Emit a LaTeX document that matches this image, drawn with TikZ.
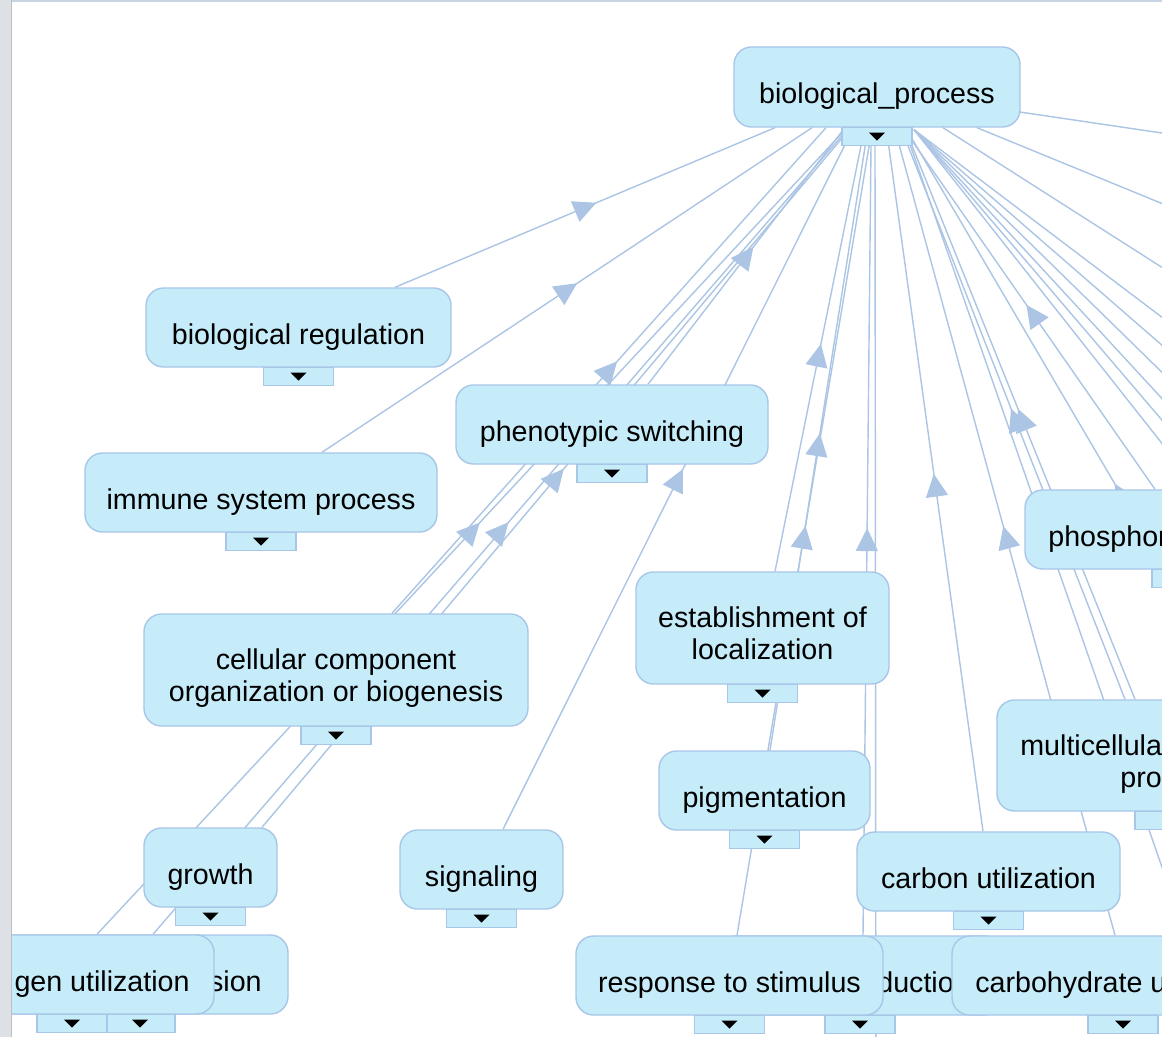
\documentclass[tikz,border=0pt]{standalone}
\usepackage{fontspec}
\setmainfont{Liberation Sans}
\usetikzlibrary{arrows.meta,decorations.markings,calc}
\pgfdeclarelayer{edgelayer}
\pgfsetlayers{edgelayer,main}
\definecolor{edgecol}{RGB}{172,197,229}
\definecolor{boxfill}{RGB}{198,236,250}
\definecolor{boxline}{RGB}{168,198,232}
\definecolor{stripcol}{RGB}{221,224,228}
\definecolor{topcol}{RGB}{200,212,226}
\tikzset{
  gobox/.style={draw=boxline, fill=boxfill, line width=0.8pt, rounded corners=10pt, inner sep=0pt},
  gotab/.style={draw=boxline, fill=boxfill, line width=0.8pt, inner sep=0pt,
                minimum width=70*0.02cm, minimum height=18*0.02cm},
  golabel/.style={font=\fontsize{16.3pt}{18.2pt}\selectfont, text=black, align=center, inner sep=0pt},
  goedge/.style={draw=edgecol, line width=0.8pt, postaction={decorate},
    decoration={markings, mark=at position 0.5 with {\pgftransformxshift{7pt}\arrow{Triangle[length=13pt,width=12.5pt]}}}},
}
\newcommand\gonode[5]{%
  \node[gobox, minimum width=#4*0.02cm, minimum height=#5*0.02cm] (#1) at (#2,#3) {};
  \node[gotab] (#1-tab) at ($(#1.south)+(0,9)$) {};
  \fill ($(#1-tab.center)+(-8,-4)$) -- ++(16,0) -- ++(-8,8) -- cycle;
}
\begin{document}
\begin{tikzpicture}[x=0.02cm, y=-0.02cm]
\useasboundingbox (0,0) rectangle (1162,1037);
\clip (0,0) rectangle (1162,1037);

% off-screen ends of connectors
\coordinate (offB) at (876,1150);
\coordinate (offC) at (1330,850);
\coordinate (offD) at (1186,936);
\coordinate (offR1) at (1500,183);
\coordinate (offR2) at (1500,342);
\coordinate (offR3) at (1500,483);
\coordinate (offR4) at (1500,573);
\coordinate (offR5) at (1500,639);
\coordinate (offR6) at (1500,703);
\coordinate (offR7) at (1500,765);
\coordinate (offR8) at (1500,816);
\coordinate (offR9) at (1500,871);

% nodes (back to front)
\gonode{bp}{877}{87}{286}{80}
\node[golabel, anchor=base] (bp-t) at (877,104) {biological\_process};

\gonode{bioreg}{298.5}{327.5}{305}{79}
\node[golabel, anchor=base] (bioreg-t) at (298.5,344.5) {biological regulation};

\gonode{immune}{261}{492.5}{352}{79}
\node[golabel, anchor=base] (immune-t) at (261,509.5) {immune system process};

\gonode{ps}{612}{424.5}{312}{79}
\node[golabel, anchor=base] (ps-t) at (612,441.5) {phenotypic switching};

\gonode{cc}{336}{670}{384}{112}
\node[golabel] (cc-t) at (336,678.5) {cellular component\\organization or biogenesis};

\gonode{estloc}{762.5}{628}{253}{112}
\node[golabel] (estloc-t) at (762.5,633.5) {establishment of\\localization};

\gonode{phospho}{1187}{529.5}{324}{79}
\node[golabel, anchor=base west] (phospho-t) at (1048,546.5) {phosphor};

\gonode{multi}{1170}{755.5}{346}{111}
\node[golabel, anchor=base west] (multi-t1) at (1020,755.5) {multicellula};
\node[golabel, anchor=base west] (multi-t2) at (1120,787.5) {pro};

\gonode{pig}{764.5}{790.5}{211}{79}
\node[golabel, anchor=base] (pig-t) at (764.5,807.5) {pigmentation};

\gonode{growth}{210.5}{867.5}{133}{79}
\node[golabel, anchor=base] (growth-t) at (210.5,884.5) {growth};

\gonode{signal}{481.5}{869.5}{163}{79}
\node[golabel, anchor=base] (signal-t) at (481.5,886.5) {signaling};

\gonode{carbon}{988.5}{871.5}{263}{79}
\node[golabel, anchor=base] (carbon-t) at (988.5,888.5) {carbon utilization};

\gonode{sion}{140}{974.5}{296}{79}
\node[golabel, anchor=base east] (sion-t) at (262,991.5) {sion};

\gonode{nitro}{72}{974.5}{284}{79}
\node[golabel, anchor=base east] (nitro-t) at (190,991.5) {gen utilization};

\gonode{ductio}{860}{975.5}{284}{79}
\node[golabel, anchor=base west] (ductio-t) at (877,992.5) {ductio};

\gonode{resp}{729.5}{975.5}{307}{79}
\node[golabel, anchor=base] (resp-t) at (729.5,992.5) {response to stimulus};

\gonode{carbo}{1123}{975.5}{342}{79}
\node[golabel, anchor=base west] (carbo-t) at (975,992.5) {carbohydrate u};

% white ground and connectors behind the nodes
\begin{pgfonlayer}{edgelayer}
\begin{scope}
\clip (0,0) rectangle (1162,1037);
\fill[white] (0,0) rectangle (1162,1037);
\draw[goedge] ($(bioreg.north)+(96.5,0)$) -- ($(bp.south)+(-102,0)$);
\draw[goedge] ($(immune.north)+(61,0)$) -- ($(bp.south)+(-65,0)$);
\draw[goedge] ($(nitro.north)+(25,0)$) -- ($(bp.south)+(-31,1)$);
\draw[goedge] ($(sion.north)+(13,0)$) -- ($(bp.south)+(-29,1)$);
\draw[goedge] ($(growth.north)+(51.5,0)$) -- ($(bp.south)+(-27,1)$);
\draw[goedge] ($(cc.north)+(56,0)$) -- ($(bp.south)+(-51,0)$);
\draw[goedge] ($(ps.north)+(36,0)$) -- ($(bp.south)+(-33,1)$);
\draw[goedge] ($(signal.north)+(21.5,0)$) -- ($(bp.south)+(-25,3)$);
\draw[goedge] ($(estloc.north)+(12.5,0)$) -- ($(bp.south)+(-15,13)$);
\draw[goedge] ($(pig.north)+(5.5,0)$) -- ($(bp.south)+(-11,13)$);
\draw[goedge] ($(resp.north)+(7.5,0)$) -- ($(bp.south)+(-7,13)$);
\draw[goedge] ($(ductio.north)+(3,0)$) -- ($(bp.south)+(-6,18)$);
\draw[goedge] (offB) -- ($(bp.south)+(-2,18)$);
\draw[goedge] ($(carbon.north)+(-5.5,0)$) -- ($(bp.south)+(11,13)$);
\draw[goedge] ($(carbo.north)+(-8,0)$) -- ($(bp.south)+(21,13)$);
\draw[goedge] ($(multi.north)+(-45,0)$) -- ($(bp.south)+(29,13)$);
\draw[goedge] ($(multi.north)+(-35,0)$) -- ($(bp.south)+(33,13)$);
\draw[goedge] ($(phospho.north)+(-32,0)$) -- ($(bp.south)+(35,13)$);
\draw[goedge] (offC) -- ($(bp.south)+(35,11)$);
\draw[goedge] (offD) -- ($(bp.south)+(31,11)$);
\draw[goedge] (offR1) -- ($(bp.east)+(-1,25)$);
\draw[goedge] (offR2) -- ($(bp.south)+(100,0)$);
\draw[goedge] (offR3) -- ($(bp.south)+(66,0)$);
\draw[goedge] (offR4) -- ($(bp.south)+(37,2)$);
\draw[goedge] (offR5) -- ($(bp.south)+(37,2)$);
\draw[goedge] (offR6) -- ($(bp.south)+(37,2)$);
\draw[goedge] (offR7) -- ($(bp.south)+(37,2)$);
\draw[goedge] (offR8) -- ($(bp.south)+(37,2)$);
\draw[goedge] (offR9) -- ($(bp.south)+(37,2)$);
\end{scope}
\end{pgfonlayer}

% window frame
\fill[topcol] (11,0) rectangle (1162,2);
\fill[stripcol] (0,0) rectangle (11,1037);
\draw[black!25, line width=0.4pt] (11,0) -- (11,1037);
\end{tikzpicture}
\end{document}
